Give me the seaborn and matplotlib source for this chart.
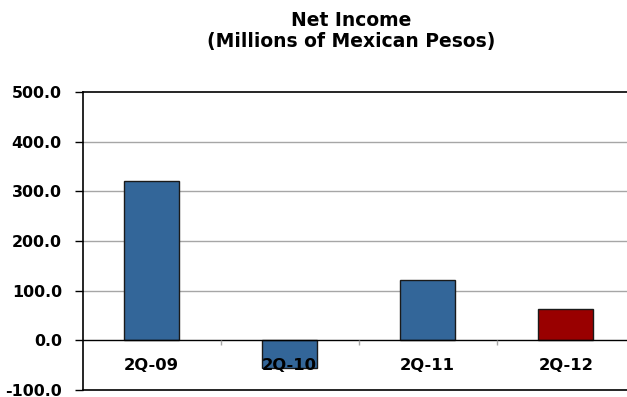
import matplotlib
matplotlib.use("Agg")
import matplotlib.pyplot as plt
import seaborn as sns
import pandas as pd

categories = ["2Q-09", "2Q-10", "2Q-11", "2Q-12"]
values = [321.0, -56.0, 121.0, 64.0]
bar_colors = ["#336699", "#336699", "#336699", "#990000"]
yticks = [-100.0, 0.0, 100.0, 200.0, 300.0, 400.0, 500.0]
title = "Net Income\n(Millions of Mexican Pesos)"

sns.set_theme(style="white")
plt.rcParams["font.family"] = ["DejaVu Sans"]
plt.rcParams["text.color"] = "black"
plt.rcParams["ytick.color"] = "black"
plt.rcParams["xtick.color"] = "black"

df = pd.DataFrame({"cat": categories, "val": values})

fig = plt.figure(figsize=(6.27, 3.97), dpi=100)
ax = fig.add_axes([82.7 / 627, 7 / 397, 552 / 627, 298 / 397])

sns.barplot(data=df, x="cat", y="val", hue="cat", palette=bar_colors,
            width=0.4, edgecolor="#1a1a1a", linewidth=1.0, saturation=1,
            legend=False, ax=ax, zorder=2)

ax.set_xlim(-0.5, len(categories) - 0.5)
ax.set_ylim(yticks[0], yticks[-1])
ax.set_yticks(yticks)
ax.set_yticklabels([f"{t:.1f}" for t in yticks], fontsize=11.4, fontweight="bold")
ax.tick_params(axis="y", length=6, width=1, color="black", pad=9, left=True,
               labelcolor="black")
ax.set_xticks([])
ax.set_xlabel("")
ax.set_ylabel("")

for t in yticks[1:-1]:
    if t != 0:
        ax.axhline(t, color="#a6a6a6", lw=1, zorder=0)
ax.axhline(0, color="black", lw=1, zorder=3)
ax.vlines([i + 0.5 for i in range(len(categories) - 1)], -10, 0,
          color="#a6a6a6", lw=1, zorder=3)

for i, c in enumerate(categories):
    ax.text(i, -50, c, ha="center", va="center", fontsize=11.8,
            fontweight="bold", color="black", zorder=4)

for s in ["left", "top", "bottom"]:
    ax.spines[s].set_visible(True)
    ax.spines[s].set_color("black")
    ax.spines[s].set_linewidth(1.2)
ax.spines["right"].set_visible(False)

fig.text(351 / 627, 1 - 31 / 397, title, ha="center", va="center",
         fontsize=13.5, fontweight="bold", linespacing=1.15, color="black")

fig.savefig("out.png", dpi=100)
